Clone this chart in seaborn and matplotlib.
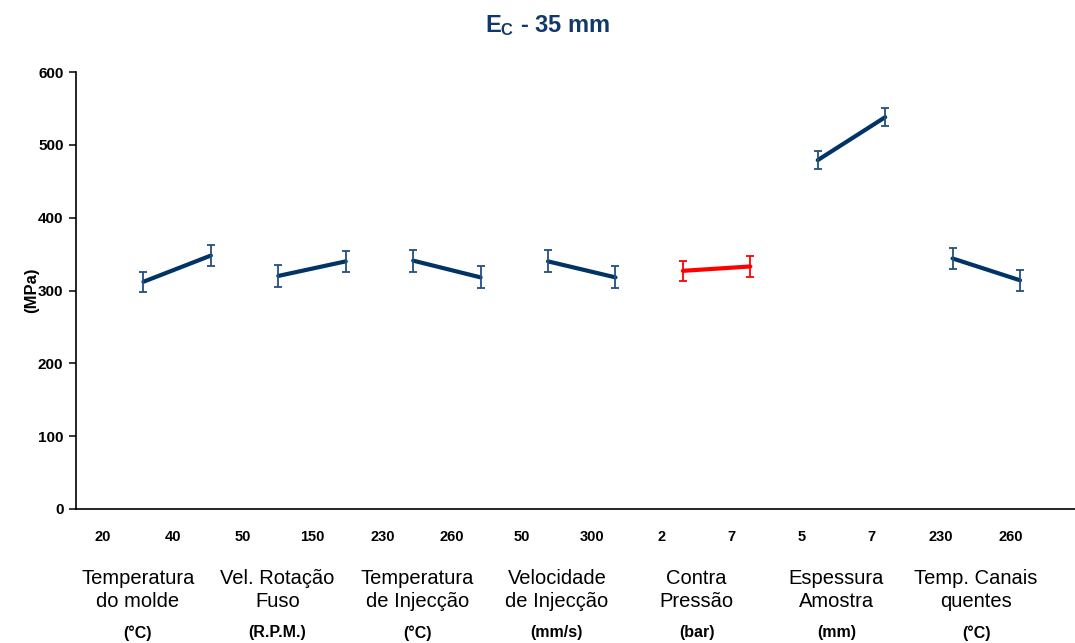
import numpy as np
import pandas as pd
import matplotlib
matplotlib.use("Agg")
import matplotlib.pyplot as plt
import matplotlib.transforms as mtransforms
import seaborn as sns

# Factors studied and their two levels
factors = ["Temperatura\ndo molde", "Vel. Rotação\nFuso", "Temperatura\nde Injecção",
           "Velocidade\nde Injecção", "Contra\nPressão", "Espessura\nAmostra",
           "Temp. Canais\nquentes"]
factor_units = ["(°C)", "(R.P.M.)", "(°C)", "(mm/s)", "(bar)", "(mm)", "(°C)"]
level_labels = ["20", "40", "50", "150", "230", "260", "50", "300",
                "2", "7", "5", "7", "230", "260"]

# Mean response (MPa) at the low and high level of each factor
mean_low = [312, 320, 341, 340, 327, 479, 344]
mean_high = [348, 340, 318, 318, 333, 538, 314]
# Half-width of the error bars (MPa)
err_low = [14, 15, 15, 15, 14, 12, 14]
err_high = [15, 14, 15, 15, 14, 12, 14]

highlight = "Contra\nPressão"

rows = []
for i, f in enumerate(factors):
    rows.append(dict(factor=f, pos=2 * i, value=mean_low[i], err=err_low[i]))
    rows.append(dict(factor=f, pos=2 * i + 1, value=mean_high[i], err=err_high[i]))
df = pd.DataFrame(rows)

navy = "#003366"
err_navy = "#22507f"
red = "#ff0000"
palette = {f: (red if f == highlight else navy) for f in factors}

sns.set_theme(style="white")
plt.rcParams["font.family"] = ["Liberation Sans", "DejaVu Sans"]
plt.rcParams["mathtext.fontset"] = "custom"
plt.rcParams["mathtext.rm"] = "Liberation Sans"
plt.rcParams["mathtext.bf"] = "Liberation Sans:bold"
plt.rcParams["text.color"] = "black"
plt.rcParams["axes.labelcolor"] = "black"
plt.rcParams["xtick.color"] = "black"
plt.rcParams["ytick.color"] = "black"

fig = plt.figure(figsize=(10.75, 6.43), dpi=100)
fig.patch.set_facecolor("white")
ax = fig.add_axes([76 / 1075, (643 - 509) / 643, (1075 - 76) / 1075, 437 / 643])
ax.set_facecolor("white")

sns.lineplot(data=df, x="pos", y="value", hue="factor", palette=palette,
             linewidth=3.0, sort=False, legend=False, ax=ax)

for f in factors:
    sub = df[df.factor == f]
    ecol = red if f == highlight else err_navy
    ax.errorbar(sub.pos, sub.value, yerr=sub.err, fmt="none", ecolor=ecol,
                elinewidth=1.3, capsize=3, capthick=1.3, zorder=3)

ax.set_xlim(-1, 13.815)
ax.set_ylim(0, 600)
ax.set_yticks(np.arange(0, 601, 100))
ax.tick_params(axis="y", which="major", left=True, length=5, width=1.1,
               pad=4, labelsize=11, color="black", labelcolor="black")
for t in ax.get_yticklabels():
    t.set_fontweight("bold")

# Level labels under each factor pair
n = len(level_labels)
label_pos = -0.602 + 1.036 * np.arange(n)
ax.set_xticks(label_pos)
ax.set_xticklabels(level_labels, fontsize=10.5, fontweight="bold", color="black")
ax.tick_params(axis="x", length=0, pad=15)
ax.set_xlabel("")

ax.set_ylabel("(MPa)", fontsize=12, fontweight="bold", color="black")
ax.yaxis.label.set_va("center")
ax.yaxis.set_label_coords(-(76 - 32) / 999, 0.5)

for side in ["top", "right"]:
    ax.spines[side].set_visible(False)
for side in ["left", "bottom"]:
    ax.spines[side].set_color("black")
    ax.spines[side].set_linewidth(1.2)

# Factor names and units below the level labels
trans = mtransforms.blended_transform_factory(ax.transData, fig.transFigure)
for i, (f, u) in enumerate(zip(factors, factor_units)):
    xc = (label_pos[2 * i] + label_pos[2 * i + 1]) / 2
    ax.text(xc, (643 - 590) / 643, f, transform=trans, ha="center", va="center",
            fontsize=14.5, linespacing=1.28, color="black")
    ax.text(xc, (643 - 633) / 643, u, transform=trans, ha="center", va="center",
            fontsize=11.5, fontweight="bold", color="black")

fig.text(548 / 1075, (643 - 26) / 643, r"$\mathbf{E_{C}}$ - 35 mm",
         ha="center", va="center", fontsize=17, fontweight="bold", color="#10386b")

fig.savefig("out.png", dpi=100, facecolor="white")
